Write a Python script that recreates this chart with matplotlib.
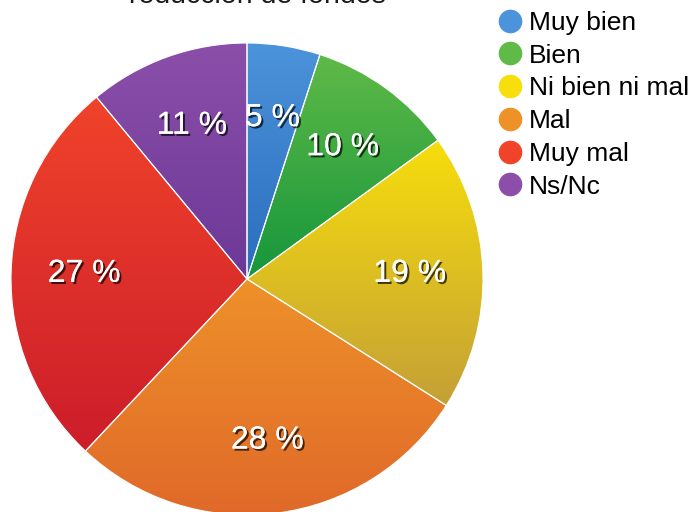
import numpy as np
import matplotlib.pyplot as plt
import matplotlib.patheffects as pe
from matplotlib.lines import Line2D
from matplotlib.colors import LinearSegmentedColormap

plt.rcParams['font.family'] = ['Liberation Sans', 'DejaVu Sans']

labels = ["Muy bien", "Bien", "Ni bien ni mal", "Mal", "Muy mal", "Ns/Nc"]
values = [5, 10, 19, 28, 27, 11]
top_colors = ["#4b93da", "#5fba47", "#f7de0c", "#ee9129", "#f0432a", "#8b4fa9"]
bottom_colors = ["#2a6dbd", "#15963c", "#c4a036", "#e0692a", "#cc1d2b", "#6c3897"]
title = "reducción de fondos"

fig = plt.figure(figsize=(6.92, 5.12), dpi=100)
ax = fig.add_axes([0, 0, 1, 1])

cx, cy, r = 247, 512 - 279, 236
wedges, texts, autotexts = ax.pie(
    values, startangle=90, counterclock=False, center=(cx, cy), radius=r,
    autopct=lambda p: "%d %%" % round(p), pctdistance=0.69,
    wedgeprops=dict(linewidth=0.8, edgecolor="white"),
    textprops=dict(color="white", fontsize=23))

# vertical gradient inside every wedge
grad = np.linspace(0, 1, 256).reshape(-1, 1)
for w, c0, c1 in zip(wedges, top_colors, bottom_colors):
    w.set_facecolor("none")
    bb = w.get_path().get_extents()
    cmap = LinearSegmentedColormap.from_list("g", [c1, c0])
    im = ax.imshow(grad, cmap=cmap, origin="lower", aspect="auto",
                   extent=(bb.x0, bb.x1, bb.y0, bb.y1), zorder=0.5)
    im.set_clip_path(w)
ax.set_xlim(0, 692)
ax.set_ylim(0, 512)
ax.axis("off")

for t in autotexts:
    t.set_path_effects([pe.withSimplePatchShadow(offset=(1.5, -1.5), shadow_rgbFace="black", alpha=0.7),
                        pe.Normal()])

# title is partly outside the top edge, as in the original
fig.text(257 / 692, 1 - 3 / 512, title, ha="center", va="baseline", fontsize=20.5, color="#1a1a1a")

handles = [Line2D([], [], marker="o", linestyle="none", markersize=16,
                  markerfacecolor=c, markeredgecolor=c) for c in top_colors]
ax.legend(handles, labels, loc="upper left", bbox_to_anchor=(497 / 692, 1 - 11 / 512),
          frameon=False, fontsize=19, labelspacing=0.33, handletextpad=0.2,
          handlelength=1.0, borderaxespad=0, borderpad=0)

fig.savefig("out.png", dpi=100)
